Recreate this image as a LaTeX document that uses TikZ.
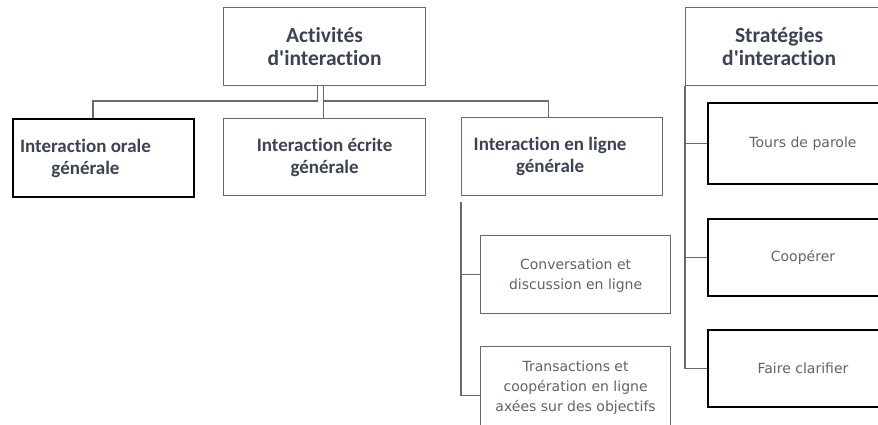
\documentclass[tikz,border=0pt]{standalone}
\usepackage{fontspec}
\setmainfont{Carlito}[Ligatures={TeX,NoCommon}]
\newfontfamily\finefont{DejaVu Sans}
\usetikzlibrary{positioning}
\definecolor{titregris}{HTML}{3C4354}
\definecolor{textegris}{HTML}{5E636E}
\definecolor{traitgris}{HTML}{6A6A6A}
\tikzset{
    %Define standard line
    lien/.style={
      draw=traitgris, line width=1.4pt},
    titretxt/.style={
      align=center,
      text=titregris,
      font=\fontsize{19}{22}\selectfont\bfseries},
    titre/.style={
      rectangle,
      draw=traitgris, line width=1.2pt,
      anchor=north west,
      titretxt},
    grandtitre/.style={
      titre,
      font=\fontsize{21.5}{23}\selectfont\bfseries},
    sous/.style={
      rectangle,
      draw=traitgris, line width=1.2pt,
      anchor=north west,
      align=center,
      text=textegris,
      font=\finefont\fontsize{14}{20}\selectfont},
    strategie/.style={
      sous,
      draw=black, line width=2pt},
}
\begin{document}
\begin{tikzpicture}[x=1pt, y=-1pt]
    \useasboundingbox (0,0) rectangle (878,425);
    % activites
    \node (act) [grandtitre, minimum width=202pt, minimum height=78pt] at (223,7)
          {Activités\\d\textquotesingle interaction};
    \node (orale) [titre, draw=black, line width=2pt,
          minimum width=181pt, minimum height=78pt,
          label={[titretxt, xshift=-18pt]center:Interaction orale\\générale}] at (12,118)
          {};
    \node (ecrite) [titre, minimum width=202pt, minimum height=77pt] at (223,118)
          {Interaction écrite\\générale};
    \node (ligne) [titre, minimum width=201pt, minimum height=78pt,
          label={[titretxt, xshift=-12pt]center:Interaction en ligne\\générale}] at (461,117)
          {};
    \node (conv) [sous, minimum width=190pt, minimum height=78pt, text depth=0pt] at (480,235)
          {Conversation et\\discussion en ligne};
    \node (trans) [sous, minimum width=190pt, minimum height=82pt] at (480,346)
          {Transactions et\\coopération en ligne\\axées sur des objectifs};
    % strategies
    \node (strat) [titre, minimum width=205pt, minimum height=78pt,
          label={[titretxt, font=\fontsize{21.5}{23}\selectfont\bfseries, xshift=-9pt]center:Stratégies\\d\textquotesingle interaction}] at (685,7)
          {};
    \node (tours) [strategie, minimum width=190pt, minimum height=81pt] at (707,102)
          {Tours de parole};
    \node (coop) [strategie, minimum width=190pt, minimum height=77pt] at (707,218)
          {Coopérer};
    \node (faire) [strategie, minimum width=190pt, minimum height=77pt] at (707,329)
          {Faire clarifier};
    % connectors
    \draw [lien] ([xshift=-7pt]act.south) -- ++(0,15) -| ([xshift=-10.5pt]orale.north);
    \draw [lien] ([xshift=-1pt]act.south) -- ([xshift=-1pt]ecrite.north);
    \draw [lien] ([xshift=-1pt,yshift=-15pt]act.south) -| ([xshift=-13.5pt]ligne.north);
    \draw [lien] ([yshift=-6pt]ligne.south west) |- (conv.west);
    \draw [lien] ([yshift=-6pt]ligne.south west) |- ([yshift=-8pt]trans.west);
    \draw [lien] (strat.south west) |- (tours.west);
    \draw [lien] (strat.south west) |- (coop.west);
    \draw [lien] (strat.south west) |- (faire.west);
\end{tikzpicture}
\end{document}
